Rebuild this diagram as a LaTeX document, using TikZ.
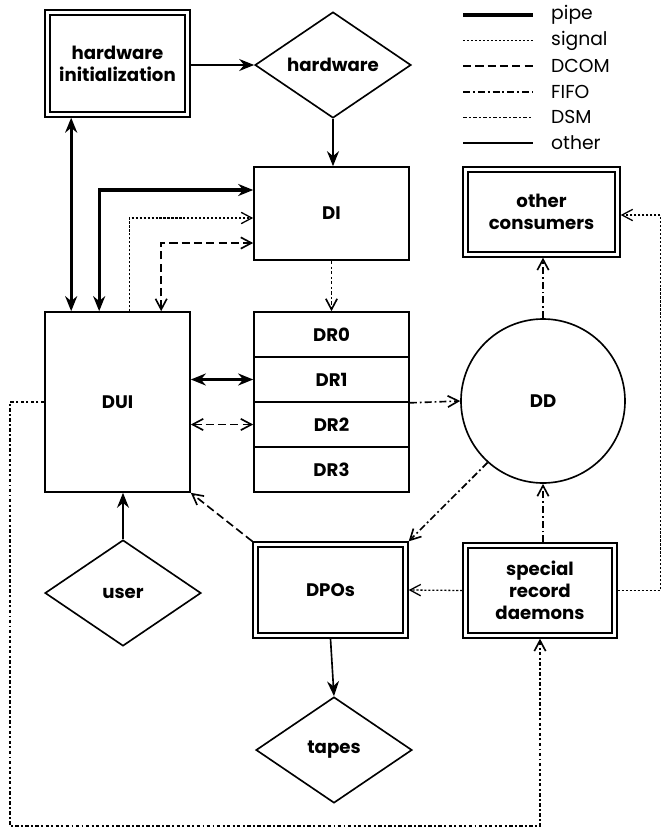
\documentclass[tikz,border=0pt]{standalone}
\usepackage{fontspec}
\setmainfont{Poppins}
\usetikzlibrary{arrows.meta,shapes.geometric,calc}

\begin{document}
\begin{tikzpicture}[
  x=0.03cm, y=-0.03cm,
  font=\fontsize{16}{18}\selectfont,
  box/.style={draw, line width=1.4pt, align=center, inner sep=0pt,
    font=\fontsize{15.5}{19}\selectfont\bfseries},
  dbox/.style={box, double, double distance=3.2pt, line width=1.1pt, outer sep=2.7pt},
  dia/.style={box, diamond, minimum width=4.68cm, minimum height=3.18cm},
  pipe/.style={line width=2.6pt, >={Stealth[length=4.5mm,width=3.6mm]}},
  signal/.style={line width=1.1pt, dash pattern=on 1.8pt off 1.6pt,
    >={Straight Barb[length=3.2mm,width=3.4mm]}},
  dcom/.style={line width=1.4pt, dash pattern=on 7pt off 3.5pt,
    >={Straight Barb[length=3.2mm,width=3.4mm]}},
  fifo/.style={line width=1.4pt, dash pattern=on 6pt off 2.5pt on 1.6pt off 2.5pt,
    >={Straight Barb[length=3.2mm,width=3.4mm]}},
  dsm/.style={line width=1.4pt, dash pattern=on 3pt off 2pt on 1.6pt off 2pt,
    >={Straight Barb[length=3.2mm,width=3.4mm]}},
  other/.style={line width=1.4pt, >={Stealth[length=4.5mm,width=3.6mm]}}
]
\path[use as bounding box] (0,0) rectangle (664,829);

% processes
\node[dbox, minimum width=4.2cm, minimum height=3.06cm] (hwinit) at (117.5,63.5) {hardware\\initialization};
\node[dia] (hw) at (333,65) {hardware};
\node[box, minimum width=4.65cm, minimum height=2.79cm] (DI) at (331.5,213.5) {DI};
\node[dbox, minimum width=4.56cm, minimum height=2.55cm] (cons) at (541.5,212) {other\\consumers};
\node[box, minimum width=4.35cm, minimum height=5.4cm] (DUI) at (117.5,402) {DUI};
\foreach \i in {0,...,3}
  \node[box, minimum width=4.65cm, minimum height=1.35cm] (DR\i) at (331.5,334.5+45*\i) {DR\i};
\node[box, circle, minimum size=4.92cm] (DD) at (543,401) {DD};
\node[dbox, minimum width=4.5cm, minimum height=2.73cm] (DPO) at (330.5,590) {DPOs};
\node[dbox, minimum width=4.47cm, minimum height=2.7cm] (srd) at (540,590.5) {special\\record\\daemons};
\node[dia] (user) at (123,593) {user};
\node[dia] (tapes) at (334,750) {tapes};
\coordinate (loop) at (10,826);

% connections
\draw[other,->] (hwinit.east |- hw.west) -- (hw.west);
\draw[other,->] (hw.south) -- (hw.south |- DI.north);
\draw[pipe,<->] ([xshift=0.81cm]DUI.north west |- hwinit.south) -- ([xshift=0.81cm]DUI.north west);
\draw[pipe,<->] ([xshift=1.65cm]DUI.north west) |- ([yshift=0.705cm]DI.west);
\draw[signal,->] ([xshift=2.55cm]DUI.north west) |- ([yshift=-0.135cm]DI.west);
\draw[dcom,<->] ([xshift=3.51cm]DUI.north west) |- ([yshift=-0.885cm]DI.west);
\draw[dsm,->] (DI.south) -- (DR0.north);
\draw[pipe,<->] (DUI.east |- DR1.west) -- (DR1.west);
\draw[dcom,<->] (DUI.east |- DR2.west) -- (DR2.west);
\draw[fifo,->] (DR1.south east) -- (DD.west);
\draw[fifo,->] (DD.north) -- (DD.north |- cons.south);
\draw[fifo,->] (DD.228) -- (DPO.north east);
\draw[fifo,->] (srd.north -| DD.south) -- (DD.south);
\draw[signal,->] (srd.west) -- (DPO.east);
\draw[signal,->] (srd.east) -- ++(1.28cm,0) |- ([yshift=-0.09cm]cons.east);
\draw[dcom,->] (DPO.north west) -- (DUI.south east);
\draw[other,->] (user.north) -- (user.north |- DUI.south);
\draw[other,->] (DPO.south) -- (tapes.north);
\draw[dsm,->] (DUI.west) -| (loop) -| (srd.south);

% legend
\foreach \sty/\lab [count=\i from 0] in {pipe/pipe, signal/signal, dcom/DCOM, fifo/FIFO, dsm/DSM, other/other} {
  \draw[\sty] (463,15+25.6*\i) -- (533,15+25.6*\i);
  \node[anchor=west, inner sep=0pt] (key\i) at (551,15+25.6*\i) {\lab};
}
\end{tikzpicture}
\end{document}
